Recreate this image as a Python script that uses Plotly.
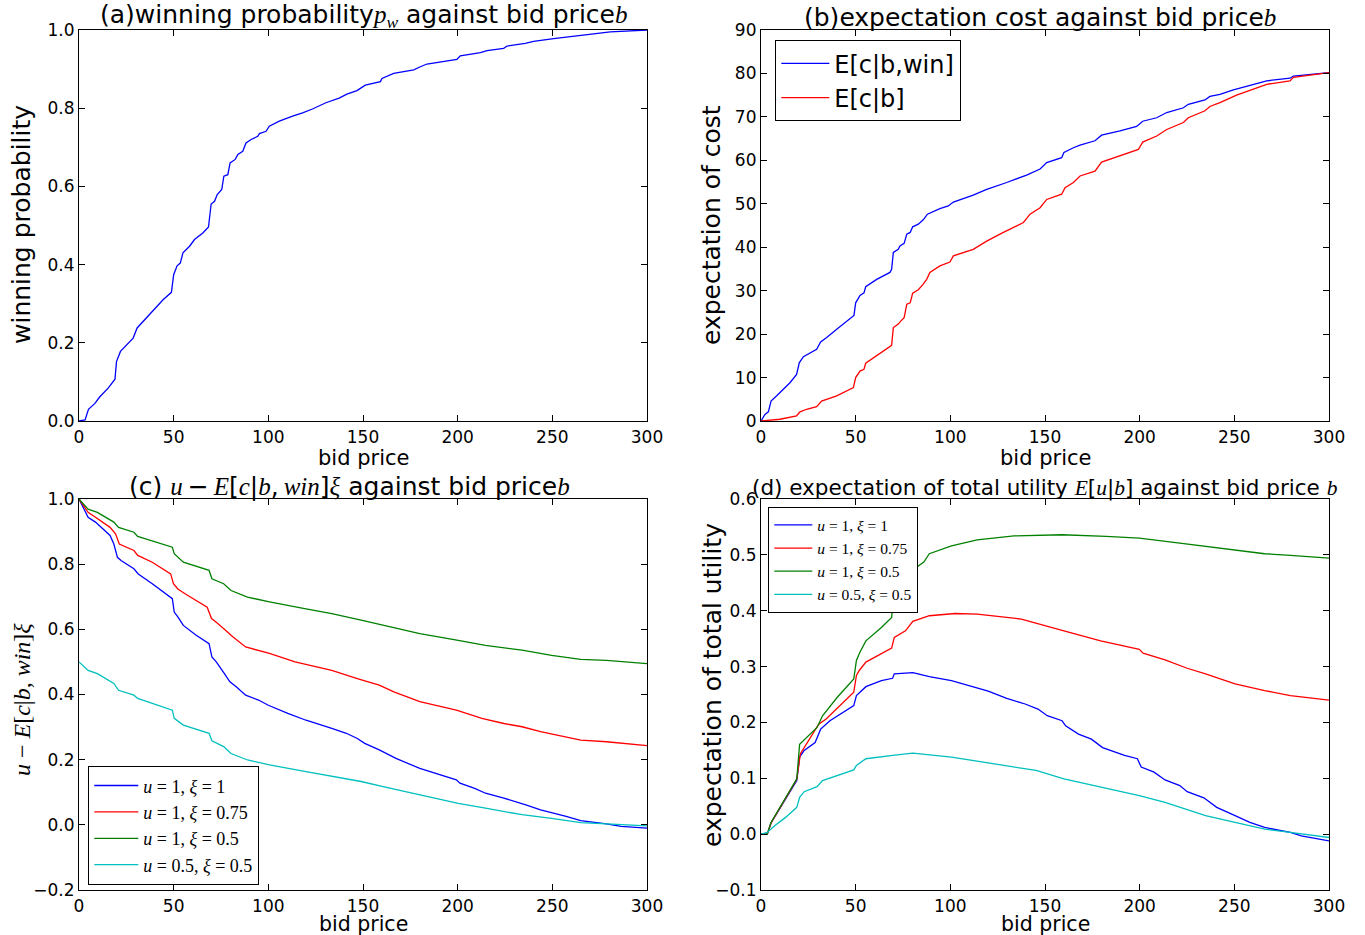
import plotly.graph_objects as go

# ---------------- data ----------------
# (a) winning probability p_w vs bid price
pw_bid = [0, 3.2, 5, 8.4, 11, 15.4, 19, 19.8, 21.9, 25,
          28.6, 30.7, 33.9, 39.1, 44.4, 48.8, 50, 51.8, 53.5, 54.9,
          58.4, 61, 65.4, 68.4, 69.8, 71.6, 73, 75.4, 76.5, 78.6,
          79.8, 82.5, 83.9, 86.5, 88.2, 90.9, 94.4, 95.3, 98.8, 100.5,
          105.8, 112.8, 118.1, 123.3, 130.4, 137.4, 141.5, 146.8, 151.2, 159.2,
          160, 166.2, 176.8, 180.3, 183.8, 199.6, 201.4, 212, 215.5, 224.3,
          226.1, 235.7, 240.1, 250.7, 261.3, 271.8, 280.6, 300]
pw_val = [0, 0.003, 0.03, 0.045, 0.062, 0.084, 0.107, 0.152, 0.178, 0.195,
          0.212, 0.238, 0.255, 0.28, 0.31, 0.329, 0.374, 0.397, 0.404, 0.43,
          0.447, 0.464, 0.481, 0.496, 0.555, 0.562, 0.579, 0.592, 0.626, 0.63,
          0.66, 0.669, 0.682, 0.69, 0.711, 0.72, 0.728, 0.735, 0.741, 0.754,
          0.767, 0.78, 0.788, 0.798, 0.814, 0.826, 0.836, 0.845, 0.859, 0.868,
          0.876, 0.889, 0.898, 0.906, 0.913, 0.925, 0.934, 0.942, 0.947, 0.953,
          0.959, 0.966, 0.971, 0.978, 0.985, 0.990, 0.995, 1.0]

# (b) expectation cost
cost_win_bid = [0, 2.1, 3.9, 5.3, 8.3, 10.9, 15.3, 18.8, 20.2, 22.4,
                29.4, 31.5, 34.7, 40, 45.2, 49.1, 50, 52.3, 54.4, 55.3,
                61.1, 68.1, 69, 69.9, 72.5, 73.4, 75.6, 77, 78.8, 80.1,
                83.1, 85.7, 87.9, 94.5, 98.9, 101.6, 112.1, 119.2, 129.8, 140.3,
                147.4, 150.9, 158.8, 160, 165, 168.5, 176.4, 179.9, 189.6, 198.4,
                201.6, 209, 214.3, 223.1, 225.7, 234.5, 237.1, 242.4, 249.5, 258.3,
                267.1, 279.4, 281.2, 300]
cost_win_val = [0, 1.5, 2.1, 4.6, 5.8, 6.9, 8.8, 10.7, 13.4, 14.8,
                16.5, 18.2, 19.2, 21.1, 23, 24.3, 27.2, 28.9, 29.5, 30.9,
                32.6, 34.2, 34.9, 38.8, 39.5, 40.3, 40.9, 43, 43.4, 44.7,
                45.3, 46.3, 47.6, 48.9, 49.5, 50.4, 52, 53.3, 54.9, 56.6,
                58.0, 59.5, 60.6, 61.8, 62.9, 63.5, 64.5, 65.8, 66.8, 67.8,
                69, 69.8, 71, 72.1, 72.9, 73.9, 74.7, 75.2, 76.2, 77.3,
                78.3, 78.9, 79.4, 80.2]
cost_bid = [0, 10, 18.8, 20.6, 24.1, 29.4, 32, 40, 48.8, 50,
            52.3, 54.4, 55.3, 61.1, 69, 69.9, 72.5, 73.8, 75.6, 77,
            78.8, 80.1, 83.1, 85.7, 87.5, 89.2, 94.5, 99.8, 101.6, 112.1,
            119.2, 128, 138.6, 142.1, 147.4, 150.9, 158.8, 160.6, 165, 168.5,
            176.4, 179.9, 189.6, 199.3, 201.6, 209, 214.3, 223.1, 225.7, 234.5,
            237.1, 242.4, 251.2, 260, 267.1, 279.4, 281.2, 300]
cost_val = [0, 0.4, 1.2, 2.1, 2.7, 3.3, 4.6, 5.8, 7.7, 10,
            11.5, 11.9, 13.3, 15, 17.4, 21.5, 22.3, 23, 23.8, 26.9,
            27.2, 29.4, 30.2, 31.5, 32.6, 34.2, 35.7, 36.6, 38, 39.5,
            41.4, 43.4, 45.7, 47.6, 49.1, 51, 52.2, 53.7, 54.9, 56.4,
            57.5, 59.6, 61, 62.5, 64.2, 65.6, 67.1, 68.7, 69.8, 71.4,
            72.4, 73.3, 75, 76.4, 77.5, 78.3, 79.1, 80.2]

# (c) u - E[c|b,win] xi
c1_bid = [0, 4.8, 8.7, 12.6, 16.4, 18.4, 20.3, 22.2, 29, 31.3,
          38.7, 49.3, 50.3, 52.2, 55.1, 61.9, 68.7, 70.2, 72.5, 76.8,
          79.7, 83.2, 88, 94.8, 100, 110.3, 119.9, 133.5, 141.2, 147,
          150.9, 158.6, 167.4, 180, 191.5, 199.3, 201.2, 209, 214.7, 224.4,
          236, 243.8, 257.3, 265, 278.6, 286.3, 300]
c1_val = [1.0, 0.944, 0.929, 0.908, 0.888, 0.862, 0.821, 0.811, 0.786, 0.770,
          0.740, 0.694, 0.653, 0.638, 0.612, 0.582, 0.556, 0.515, 0.5, 0.464,
          0.439, 0.423, 0.398, 0.383, 0.367, 0.342, 0.321, 0.296, 0.281, 0.265,
          0.25, 0.230, 0.204, 0.173, 0.153, 0.138, 0.128, 0.112, 0.097, 0.082,
          0.061, 0.046, 0.026, 0.013, 0.003, -0.005, -0.010]
c2_bid = [0, 4.8, 8.7, 16.4, 19.3, 21.3, 29, 31, 38.7, 48.4,
          49.9, 52.2, 56, 67.7, 70, 72.5, 77.4, 81.2, 88, 100.6,
          114.1, 133.5, 147, 158.6, 166.3, 180, 199.3, 212.8, 224.4, 234,
          243.8, 265, 278.6, 300]
c2_val = [1.0, 0.959, 0.944, 0.913, 0.893, 0.862, 0.842, 0.827, 0.806, 0.770,
          0.740, 0.724, 0.709, 0.668, 0.633, 0.622, 0.597, 0.577, 0.546, 0.526,
          0.5, 0.474, 0.449, 0.429, 0.408, 0.378, 0.352, 0.327, 0.311, 0.301,
          0.286, 0.260, 0.255, 0.243]
c3_bid = [0, 4.8, 9.7, 18.4, 20.9, 29, 31, 49.3, 50.3, 55.1,
          68.7, 70.2, 76.4, 80.3, 89, 100.6, 119.9, 133.5, 149, 160.6,
          180, 200.3, 214.7, 234, 249.6, 265, 278.6, 300]
c3_val = [1.0, 0.969, 0.959, 0.929, 0.913, 0.898, 0.885, 0.852, 0.832, 0.806,
          0.781, 0.755, 0.740, 0.719, 0.699, 0.684, 0.663, 0.648, 0.628, 0.612,
          0.587, 0.566, 0.551, 0.536, 0.520, 0.508, 0.505, 0.495]
c4_bid = [0, 4.8, 9.7, 18.4, 20.9, 29, 31, 49.3, 50.3, 55.1,
          68.7, 70.2, 76.4, 80.3, 89, 100.6, 119.9, 133.5, 149, 160.6,
          180, 200.3, 214.7, 234, 249.6, 265, 278.6, 300]
c4_val = [0.5, 0.474, 0.464, 0.434, 0.413, 0.398, 0.388, 0.352, 0.327, 0.306,
          0.281, 0.258, 0.240, 0.219, 0.199, 0.184, 0.163, 0.148, 0.133, 0.117,
          0.092, 0.066, 0.051, 0.031, 0.020, 0.007, 0.003, -0.003]

# (d) expectation of total utility E[u|b]
d1_bid = [0, 3.3, 5.3, 9.1, 13, 18.9, 20.4, 22.8, 28.6, 31.5,
          36.4, 49, 50.4, 55.4, 63.6, 69.5, 70.4, 80.2, 88.9, 100.6,
          110.3, 120, 129.8, 139.5, 146.3, 151.2, 159, 160.9, 167.7, 174.5,
          180.4, 192, 198.8, 200.8, 207.6, 213.4, 221.2, 225.1, 233.9, 240.7,
          250.4, 258.2, 266, 279.6, 285.4, 300]
d1_val = [0, 0.0, 0.02, 0.042, 0.063, 0.096, 0.138, 0.15, 0.164, 0.188,
          0.203, 0.230, 0.248, 0.264, 0.275, 0.279, 0.287, 0.289, 0.282, 0.275,
          0.266, 0.256, 0.243, 0.233, 0.224, 0.212, 0.203, 0.194, 0.179, 0.170,
          0.155, 0.141, 0.135, 0.120, 0.111, 0.097, 0.087, 0.076, 0.065, 0.048,
          0.033, 0.021, 0.012, 0.003, -0.003, -0.012]
d2_bid = [0, 3.3, 5.3, 9.1, 13, 18.9, 20.8, 30.5, 34.4, 49,
          50.4, 51.9, 55.4, 63.6, 69, 70.4, 73.4, 76.3, 80.2, 88.9,
          102.5, 114.2, 137.5, 151.2, 160, 179.4, 199.8, 201.8, 213.4, 225.1,
          234.8, 250.4, 266, 279.6, 300]
d2_val = [0, 0.0, 0.02, 0.042, 0.064, 0.098, 0.144, 0.197, 0.206, 0.254,
          0.284, 0.293, 0.308, 0.323, 0.333, 0.352, 0.358, 0.364, 0.381, 0.391,
          0.395, 0.394, 0.385, 0.373, 0.364, 0.346, 0.331, 0.324, 0.312, 0.297,
          0.287, 0.269, 0.257, 0.248, 0.240]
d3_bid = [0, 3.3, 5.3, 9.1, 13, 18.9, 20.4, 29.6, 32.5, 40.3,
          49, 50.4, 52.3, 55.4, 63.6, 69, 70.4, 72.4, 86, 88.9,
          100.6, 114.2, 133.6, 159, 182.3, 199.8, 221.2, 234.8, 250.4, 266,
          279.6, 300]
d3_val = [0, 0.0, 0.021, 0.043, 0.065, 0.099, 0.161, 0.191, 0.212, 0.245,
          0.278, 0.311, 0.326, 0.346, 0.370, 0.388, 0.436, 0.454, 0.487, 0.502,
          0.516, 0.527, 0.534, 0.536, 0.533, 0.530, 0.521, 0.515, 0.508, 0.502,
          0.499, 0.494]
d4_bid = [0, 3.3, 7.2, 13, 18.9, 20.4, 22.8, 29.6, 32.5, 49,
          50.4, 55.4, 69.5, 80.2, 100.6, 120, 145.3, 160, 180.4, 199.8,
          213.4, 234.8, 250.4, 266, 279.6, 300]
d4_val = [0, 0.003, 0.015, 0.030, 0.048, 0.066, 0.076, 0.085, 0.096, 0.115,
          0.123, 0.135, 0.141, 0.145, 0.138, 0.127, 0.114, 0.099, 0.084, 0.069,
          0.057, 0.033, 0.021, 0.009, 0.003, -0.006]

x_ticks = [0, 50, 100, 150, 200, 250, 300]
series_names = ['<i>u</i> = 1, <i>ξ</i> = 1', '<i>u</i> = 1, <i>ξ</i> = 0.75',
                '<i>u</i> = 1, <i>ξ</i> = 0.5', '<i>u</i> = 0.5, <i>ξ</i> = 0.5']
series_colors = ['#0000ff', '#ff0000', '#008000', '#00bfbf']

# ---------------- layout helpers ----------------
W, H = 1365, 935
def px(x):
    return x / W
def py(y):
    return 1 - y / H

SANS = 'DejaVu Sans'
SERIF = 'Liberation Serif'
def M(s):
    return f'<span style="font-family:{SERIF}"><i>{s}</i></span>'

LW = 1.3
fig = go.Figure()

fig.add_trace(go.Scatter(x=pw_bid, y=pw_val, mode='lines', line=dict(color='#0000ff', width=LW),
                         xaxis='x', yaxis='y', showlegend=False))
fig.add_trace(go.Scatter(x=cost_win_bid, y=cost_win_val, mode='lines', name='E[c|b,win]',
                         line=dict(color='#0000ff', width=LW), xaxis='x2', yaxis='y2', legend='legend'))
fig.add_trace(go.Scatter(x=cost_bid, y=cost_val, mode='lines', name='E[c|b]',
                         line=dict(color='#ff0000', width=LW), xaxis='x2', yaxis='y2', legend='legend'))

c_data = [(c1_bid, c1_val), (c2_bid, c2_val), (c3_bid, c3_val), (c4_bid, c4_val)]
d_data = [(d1_bid, d1_val), (d2_bid, d2_val), (d3_bid, d3_val), (d4_bid, d4_val)]
for (bx, by), nm, col in zip(c_data, series_names, series_colors):
    fig.add_trace(go.Scatter(x=bx, y=by, mode='lines', name=nm, line=dict(color=col, width=LW),
                             xaxis='x3', yaxis='y3', legend='legend2'))
for (bx, by), nm, col in zip(d_data, series_names, series_colors):
    fig.add_trace(go.Scatter(x=bx, y=by, mode='lines', name=nm, line=dict(color=col, width=LW),
                             xaxis='x4', yaxis='y4', legend='legend3'))

def axis_style(**kw):
    d = dict(showline=True, linecolor='black', linewidth=1.2, mirror='ticks',
             ticks='inside', ticklen=6, tickwidth=1, tickcolor='black',
             showgrid=False, zeroline=False, automargin=False,
             tickfont=dict(family=SANS, size=17, color='black'))
    d.update(kw)
    return d

xa_dom = [px(79), px(647)]
xb_dom = [px(761), px(1329)]
top_dom = [py(421), py(30)]
bot_dom = [py(890), py(499)]

xkw = dict(range=[0, 300], tickvals=x_ticks)
fig.update_layout(
    xaxis=axis_style(domain=xa_dom, anchor='y', **xkw),
    yaxis=axis_style(domain=top_dom, anchor='x', range=[0, 1], dtick=0.2, tickformat='.1f'),
    xaxis2=axis_style(domain=xb_dom, anchor='y2', **xkw),
    yaxis2=axis_style(domain=top_dom, anchor='x2', range=[0, 90], dtick=10),
    xaxis3=axis_style(domain=xa_dom, anchor='y3', **xkw),
    yaxis3=axis_style(domain=bot_dom, anchor='x3', range=[-0.2, 1], dtick=0.2, tickformat='.1f'),
    xaxis4=axis_style(domain=xb_dom, anchor='y4', **xkw),
    yaxis4=axis_style(domain=bot_dom, anchor='x4', range=[-0.1, 0.6], dtick=0.1, tickformat='.1f'),
)

legend_common = dict(bgcolor='white', bordercolor='black', borderwidth=1.3,
                     xanchor='left', yanchor='top', tracegroupgap=0)
fig.update_layout(
    legend=dict(x=px(775), y=py(40), itemwidth=48,
                font=dict(family=SANS, size=24, color='black'), **legend_common),
    legend2=dict(x=px(88), y=py(766), itemwidth=44,
                 font=dict(family=SERIF, size=18, color='black'), **legend_common),
    legend3=dict(x=px(768), y=py(507), itemwidth=38,
                 font=dict(family=SERIF, size=15.5, color='black'), **legend_common),
)

ann = []
def title(text, xc, ytop, size=25):
    ann.append(dict(text=text, x=xc, y=ytop, xref='paper', yref='paper', xanchor='center',
                    yanchor='bottom', yshift=-4, showarrow=False,
                    font=dict(family=SANS, size=size, color='black')))

THIN = '\u2009'
title('(a)winning probability' + M('p') + '<sub>' + M('w') + '</sub> against bid price' + M('b'),
      px(363), py(30))
title('(b)expectation cost against bid price' + M('b'), px(1040), py(30))
title('(c) ' + M('u') + THIN + '−' + THIN + M('E') + '[' + M('c') + '|' + M('b') + ',' + THIN + M('win') + ']'
      + M('ξ') + ' against bid price' + M('b'), px(349), py(499))
title('(d) expectation of total utility ' + M('E') + '[' + M('u') + '|' + M('b') + '] against bid price ' + M('b'),
      px(1045), py(499), size=21.5)

def xlabel(xc, yc, size=21):
    ann.append(dict(text='bid price', x=xc, y=yc, xref='paper', yref='paper', xanchor='center',
                    yanchor='middle', showarrow=False, font=dict(family=SANS, size=size, color='black')))
xlabel(px(363), py(458))
xlabel(px(1045), py(458))
xlabel(px(363), py(924), size=20.5)
xlabel(px(1045), py(924), size=20.5)

def ylabel(text, xc, yc, family=SANS, size=25):
    ann.append(dict(text=text, x=xc, y=yc, xref='paper', yref='paper', xanchor='center',
                    yanchor='middle', textangle=-90, showarrow=False,
                    font=dict(family=family, size=size, color='black')))
ylabel('winning probability', px(22), py(225))
ylabel('expectation of cost', px(712), py(225))
ylabel('<i>u</i> − <i>E</i>[<i>c</i>|<i>b</i>, <i>win</i>]<i>ξ</i>', px(22), py(700), family=SERIF, size=24)
ylabel('expectation of total utility', px(712), py(685))

fig.update_layout(annotations=ann, width=W, height=H, margin=dict(l=0, r=0, t=0, b=0),
                  paper_bgcolor='white', plot_bgcolor='white')

fig.write_html('out.html', config={'displayModeBar': False},
               post_script="document.body.style.margin='0px'; document.body.style.padding='0px';")
